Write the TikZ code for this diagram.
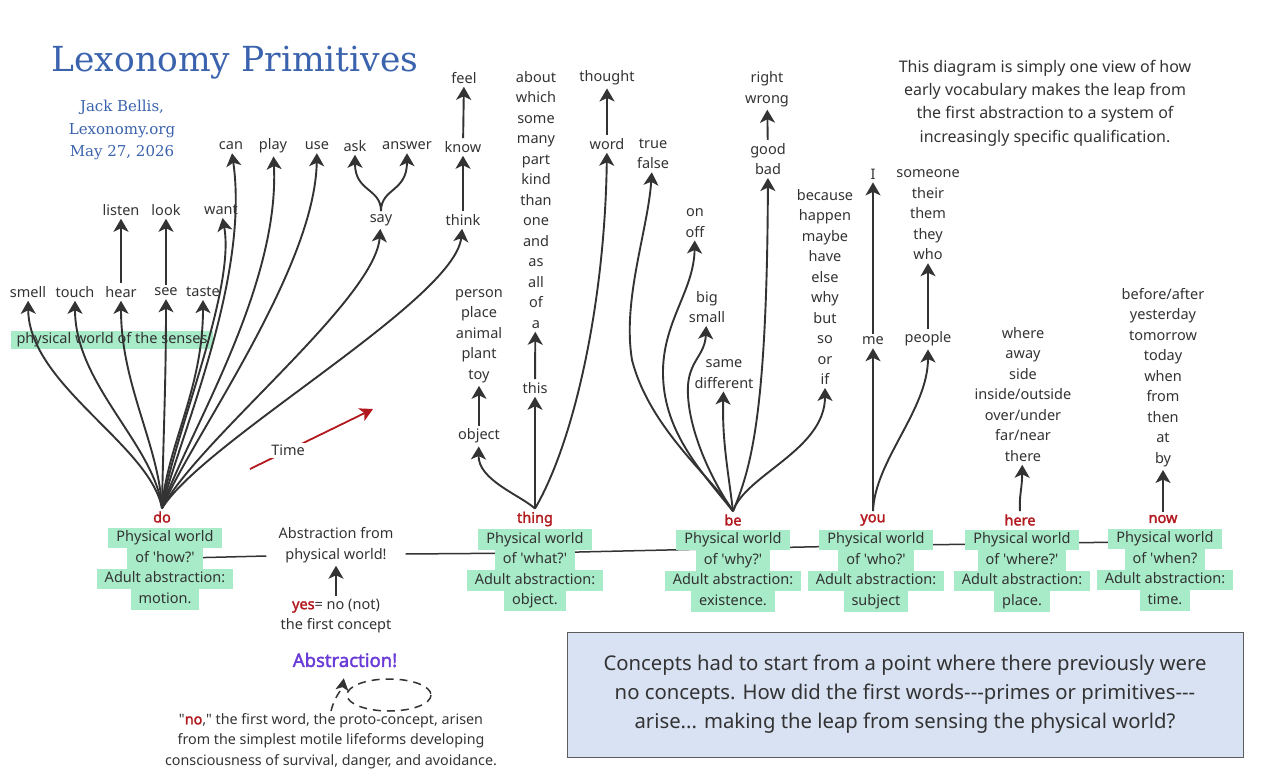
\documentclass[tikz,border=0pt]{standalone}
\usepackage{fontspec}
\newfontfamily\notosans{Noto Sans}[BoldFont={Noto Sans}, BoldFeatures={FakeBold=2}]
\newfontfamily\titlefont{DejaVu Serif}
\usetikzlibrary{arrows.meta,backgrounds}
\definecolor{ink}{HTML}{333333}
\definecolor{lexblue}{HTML}{3B63AD}
\definecolor{primred}{HTML}{B2181E}
\definecolor{mint}{HTML}{A8EBC8}
\definecolor{abstrpurple}{HTML}{6A3BD6}
\definecolor{notebg}{HTML}{D9E2F3}
\definecolor{noteedge}{HTML}{5C5C5C}
\setlength{\fboxsep}{0pt}
\newcommand{\hl}[1]{\colorbox{mint}{\strut\hspace{8pt}#1\hspace{8pt}}}

\begin{document}
\begin{tikzpicture}[x=1pt, y=-1pt,
    font=\notosans\fontsize{14.5}{20.5}\selectfont,
    every node/.style={align=center, inner sep=3pt, text=ink},
    arr/.style={draw=ink, line width=1.9pt, -{Stealth[length=13pt,width=15pt,inset=3.5pt]}},
    stem/.style={draw=ink, line width=1.5pt},
    prim/.style={text=primred, font=\notosans\bfseries\fontsize{14.5}{20.5}\selectfont},
    primbox/.style={inner sep=0pt},
    dashline/.style={draw=ink, line width=1.5pt, dash pattern=on 8pt off 6pt}]
    \useasboundingbox (0,0) rectangle (1276,783);

    % heading
    \node[text=lexblue, font=\titlefont\fontsize{34.5}{40}\selectfont] (title) at (235,63) {Lexonomy Primitives};
    \node[text=lexblue, font=\titlefont\fontsize{15}{22.5}\selectfont] (author) at (122,130) {Jack Bellis,\\Lexonomy.org\\May 27, 2026};
    \node[font=\notosans\fontsize{16}{23.3}\selectfont] (intro) at (1045,103)
      {This diagram is simply one view of how\\early vocabulary makes the leap from\\the first abstraction to a system of\\increasingly specific qualification.};

    % do: senses and actions
    \node[fill=mint, inner xsep=6pt, inner ysep=2pt] (senses) at (112,340) {physical world of the senses};
    \node (smell) at (28,292) {smell};
    \node (touch) at (75,292) {touch};
    \node (hear) at (121,292) {hear};
    \node (see) at (166,292) {see};
    \node (taste) at (203,292) {taste};
    \node (listen) at (121,210) {listen};
    \node (look) at (166,210) {look};
    \node (want) at (221,210) {want};
    \node (can) at (231,146) {can};
    \node (play) at (273,146) {play};
    \node (use) at (317,146) {use};
    \node (ask) at (355,146) {ask};
    \node (answer) at (407,146) {answer};
    \node (say) at (381,220) {say};
    \node (think) at (463,220) {think};
    \node (know) at (463,147) {know};
    \node (feel) at (464,78) {feel};

    % thing
    \node (object) at (479,436) {object};
    \node (kinds) at (479,336) {person\\place\\animal\\plant\\toy};
    \node (this) at (535,388) {this};
    \node (quant) at (536,200) {about\\which\\some\\many\\part\\kind\\than\\one\\and\\as\\all\\of\\a};
    \node (word) at (607,144) {word};
    \node (thought) at (607,78) {thought};

    % be
    \node (truefalse) at (653,154) {true\\false};
    \node (onoff) at (695,223) {on\\off};
    \node (bigsmall) at (707,307) {big\\small};
    \node (samediff) at (724,374) {same\\different};
    \node (goodbad) at (768,159) {good\\bad};
    \node (rightwrong) at (767,89) {right\\wrong};
    \node (because) at (825,287) {because\\happen\\maybe\\have\\else\\why\\but\\so\\or\\if};

    % you, here, now
    \node (me) at (873,341) {me};
    \node (self) at (873,174) {I};
    \node (people) at (928,339) {people};
    \node (others) at (928,215) {someone\\their\\them\\they\\who};
    \node (where) at (1023,394.5) {where\\away\\side\\inside/outside\\over/under\\far/near\\there};
    \node (when) at (1163,377.5) {before/after\\yesterday\\tomorrow\\today\\when\\from\\then\\at\\by};

    % the primitives
    \node[prim] (do) at (162,517) {do};
    \node[primbox] (doBox) at (165,568.5) {\hl{Physical world}\\\hl{of 'how?'}\\\hl{Adult abstraction:}\\\hl{motion.}};
    \node[prim] (thing) at (535,519) {thing};
    \node[primbox] (thingBox) at (535,570) {\hl{Physical world}\\\hl{of 'what?'}\\\hl{Adult abstraction:}\\\hl{object.}};
    \node[prim] (be) at (733,520) {be};
    \node[primbox] (beBox) at (733,570.5) {\hl{Physical world}\\\hl{of 'why?'}\\\hl{Adult abstraction:}\\\hl{existence.}};
    \node[prim] (you) at (873,520) {you};
    \node[primbox] (youBox) at (876,570.5) {\hl{Physical world}\\\hl{of 'who?'}\\\hl{Adult abstraction:}\\\hl{subject}};
    \node[prim] (here) at (1020,520) {here};
    \node[primbox] (hereBox) at (1022,570.5) {\hl{Physical world}\\\hl{of 'where?'}\\\hl{Adult abstraction:}\\\hl{place.}};
    \node[prim] (now) at (1163,519) {now};
    \node[primbox] (nowBox) at (1165,569.5) {\hl{Physical world}\\\hl{of 'when?}\\\hl{Adult abstraction:}\\\hl{time.}};

    % first abstraction
    \node (abstr) at (336,545) {Abstraction from\\physical world!};
    \node (yes) at (336,616) {\textcolor{primred}{\bfseries yes}= no (not)\\the first concept};
    \node[text=abstrpurple, font=\notosans\bfseries\fontsize{18.5}{22}\selectfont] (abstraction) at (345,660) {Abstraction!};
    \node[font=\notosans\fontsize{14.3}{20.5}\selectfont] (proto) at (331,741) {"\textcolor{primred}{\bfseries no}," the first word, the proto-concept, arisen\\from the simplest motile lifeforms developing\\consciousness of survival, danger, and avoidance.};
    \coordinate (noTail) at (331,711);

    % note
    \node[draw=noteedge, line width=1pt, fill=notebg, minimum width=676pt, minimum height=125pt,
      font=\notosans\fontsize{20.3}{29}\selectfont] (note) at (905,694.5)
      {Concepts had to start from a point where there previously were\\no concepts. How did the first words---primes or primitives---\\arise... making the leap from sensing the physical world?};

    % time
    \coordinate (timeStart) at (250,469);
    \coordinate (timeEnd) at (373,409);
    \draw[draw=primred, line width=1.8pt, -{Stealth[length=13pt,width=14pt,inset=3.5pt]}] (timeStart) -- node[pos=0.31, fill=white, inner sep=2pt] (timeLabel) {Time} (timeEnd);

    % line through the primitives
    \begin{scope}[on background layer]
      \draw[stem] ([yshift=10pt]doBox.center) -- ([xshift=-9pt,yshift=-11pt]abstr.west);
      \draw[stem] ([xshift=9pt,yshift=-9pt]abstr.east) -- ([yshift=17pt]thingBox.center) -- ([yshift=22pt]beBox.center)
        -- ([yshift=25pt]youBox.center) -- ([yshift=27pt]hereBox.center) -- ([yshift=28pt]nowBox.center);
    \end{scope}

    % do fan
    \draw[arr] (do.north) .. controls (150,445) and (29,385) .. (smell);
    \draw[arr] (do.north) .. controls (155,445) and (75,385) .. (touch);
    \draw[arr] (do.north) .. controls (159,445) and (121,385) .. (hear);
    \draw[arr] (do.north) .. controls (163,445) and (166,385) .. (see);
    \draw[arr] (do.north) .. controls (167,445) and (203,390) .. (taste);
    \draw[arr] (do.north) .. controls (172,440) and (236,290) .. (want);
    \draw[arr] (do.north) .. controls (178,440) and (250,280) .. (can);
    \draw[arr] (do.north) .. controls (184,440) and (280,290) .. (play);
    \draw[arr] (do.north) .. controls (190,440) and (315,270) .. (use);
    \draw[arr] (do.north) .. controls (198,440) and (375,300) .. (say);
    \draw[arr] (do.north) .. controls (205,440) and (455,300) .. (think);
    \draw[arr] (hear) -- (listen);
    \draw[arr] (see) -- (look);
    \draw[arr] (say.north) .. controls (381,188) and (355,192) .. (ask);
    \draw[arr] (say.north) .. controls (381,188) and (407,192) .. (answer);
    \draw[arr] (think) -- (know);
    \draw[arr] (know) -- (feel);

    % thing fan
    \draw[arr] (thing.north) .. controls (520,495) and (478,480) .. (object);
    \draw[arr] (thing.north) -- (this);
    \draw[arr] (thing.north) .. controls (575,440) and (605,300) .. (word);
    \draw[arr] (object) -- (kinds);
    \draw[arr] (this) -- (quant);
    \draw[arr] (word) -- (thought);

    % be fan
    \draw[arr] (be.north) .. controls (715,480) and (650,430) .. (632,360) .. controls (622,300) and (648,230) .. (truefalse);
    \draw[arr] (be.north) .. controls (700,470) and (662,430) .. (663,370) .. controls (664,320) and (694,290) .. (onoff);
    \draw[arr] (be.north) .. controls (705,470) and (686,420) .. (688,385) .. controls (690,360) and (705,355) .. (bigsmall);
    \draw[arr] (be.north) .. controls (728,470) and (722,440) .. (samediff);
    \draw[arr] (be.north) .. controls (750,470) and (767,420) .. (goodbad);
    \draw[arr] (be.north) .. controls (745,475) and (825,450) .. (because);
    \draw[arr] (goodbad) -- (rightwrong);

    % you, here, now
    \draw[arr] (you.north) -- (me);
    \draw[arr] (you.north) .. controls (875,460) and (928,410) .. (people);
    \draw[arr] (me) -- (self);
    \draw[arr] (people) -- (others);
    \draw[arr] (here.north) .. controls (1019,495) and (1022,490) .. (where);
    \draw[arr] (now) -- (when);

    % first abstraction
    \draw[arr] (yes) -- (abstr);
    \draw[dashline, -{Stealth[length=12pt,width=13pt,inset=3pt]}, shorten >=8pt] (noTail) .. controls (335,695) and (342,690) .. (abstraction.south);
    \draw[dashline] (389,695) ellipse [x radius=42, y radius=16];
  \end{tikzpicture}
\end{document}
